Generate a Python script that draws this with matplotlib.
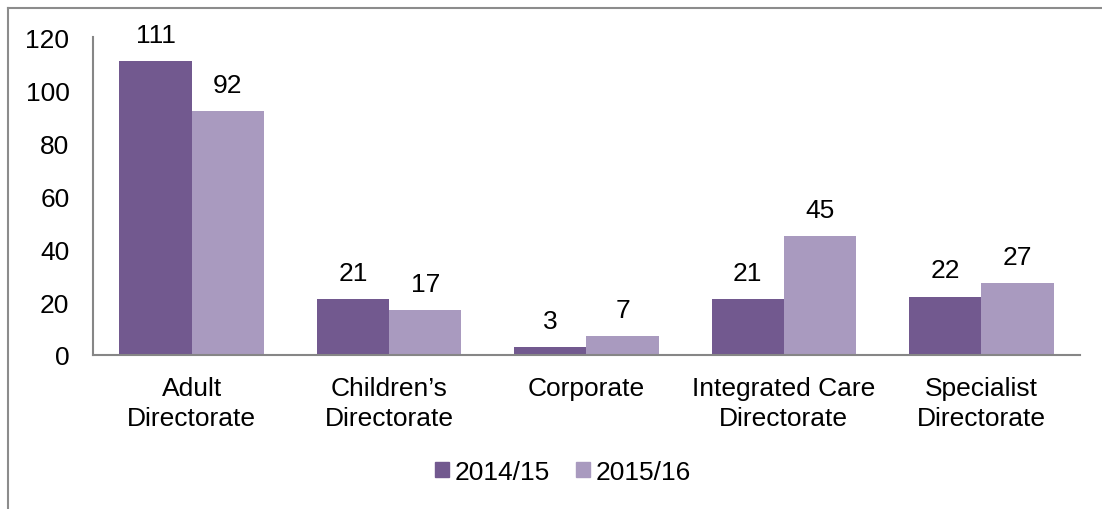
import numpy as np
import matplotlib.pyplot as plt
from matplotlib.lines import Line2D
from matplotlib.patches import Patch

plt.rcParams['font.family'] = ['Liberation Sans', 'DejaVu Sans']

categories = ["Adult\nDirectorate", "Children\u2019s\nDirectorate", "Corporate",
              "Integrated Care\nDirectorate", "Specialist\nDirectorate"]
series_names = ["2014/15", "2015/16"]
vals_1415 = [111, 21, 3, 21, 22]
vals_1516 = [92, 17, 7, 45, 27]
yticks = [0, 20, 40, 60, 80, 100, 120]

DARK = "#72598f"
LIGHT = "#a99abf"
AXIS = "#868686"
FS = 19

fig = plt.figure(figsize=(11.02, 5.10), dpi=100)
ax = fig.add_axes([0.0844, 0.302, 0.8956, 0.623])

x = np.arange(len(categories))
w = 0.366
b1 = ax.bar(x - w / 2, vals_1415, w, color=DARK, label=series_names[0])
b2 = ax.bar(x + w / 2, vals_1516, w, color=LIGHT, label=series_names[1])

for bars, vals in ((b1, vals_1415), (b2, vals_1516)):
    for r, v in zip(bars, vals):
        ax.text(r.get_x() + r.get_width() / 2, v + 5.4, str(v),
                ha="center", va="bottom", fontsize=FS, color="black")

ax.set_xlim(-0.5, len(categories) - 0.5)
ax.set_ylim(0, 120)
ax.set_yticks(yticks)
ax.set_xticks(x)
ax.set_xticklabels(categories, fontsize=FS, linespacing=1.32)
ax.tick_params(axis="y", length=0, pad=17, labelsize=FS)
ax.tick_params(axis="x", length=0, pad=15)

for s in ("top", "right"):
    ax.spines[s].set_visible(False)
for s in ("left", "bottom"):
    ax.spines[s].set_color(AXIS)
    ax.spines[s].set_linewidth(1.5)

handles = [Patch(color=DARK), Patch(color=LIGHT)]
fig.legend(handles, series_names, loc="center", bbox_to_anchor=(0.511, 0.073),
           ncol=2, frameon=False, fontsize=FS, handlelength=0.5, handleheight=0.5,
           handletextpad=0.23, columnspacing=1.0)

# outer chart border (left and top edges)
fig.add_artist(Line2D([0.0075, 0.0075], [0, 0.983], transform=fig.transFigure,
                      color="#8c8c8c", lw=1.5))
fig.add_artist(Line2D([0.0075, 1.0], [0.983, 0.983], transform=fig.transFigure,
                      color="#8c8c8c", lw=1.5))

fig.savefig("out.png", dpi=100)
